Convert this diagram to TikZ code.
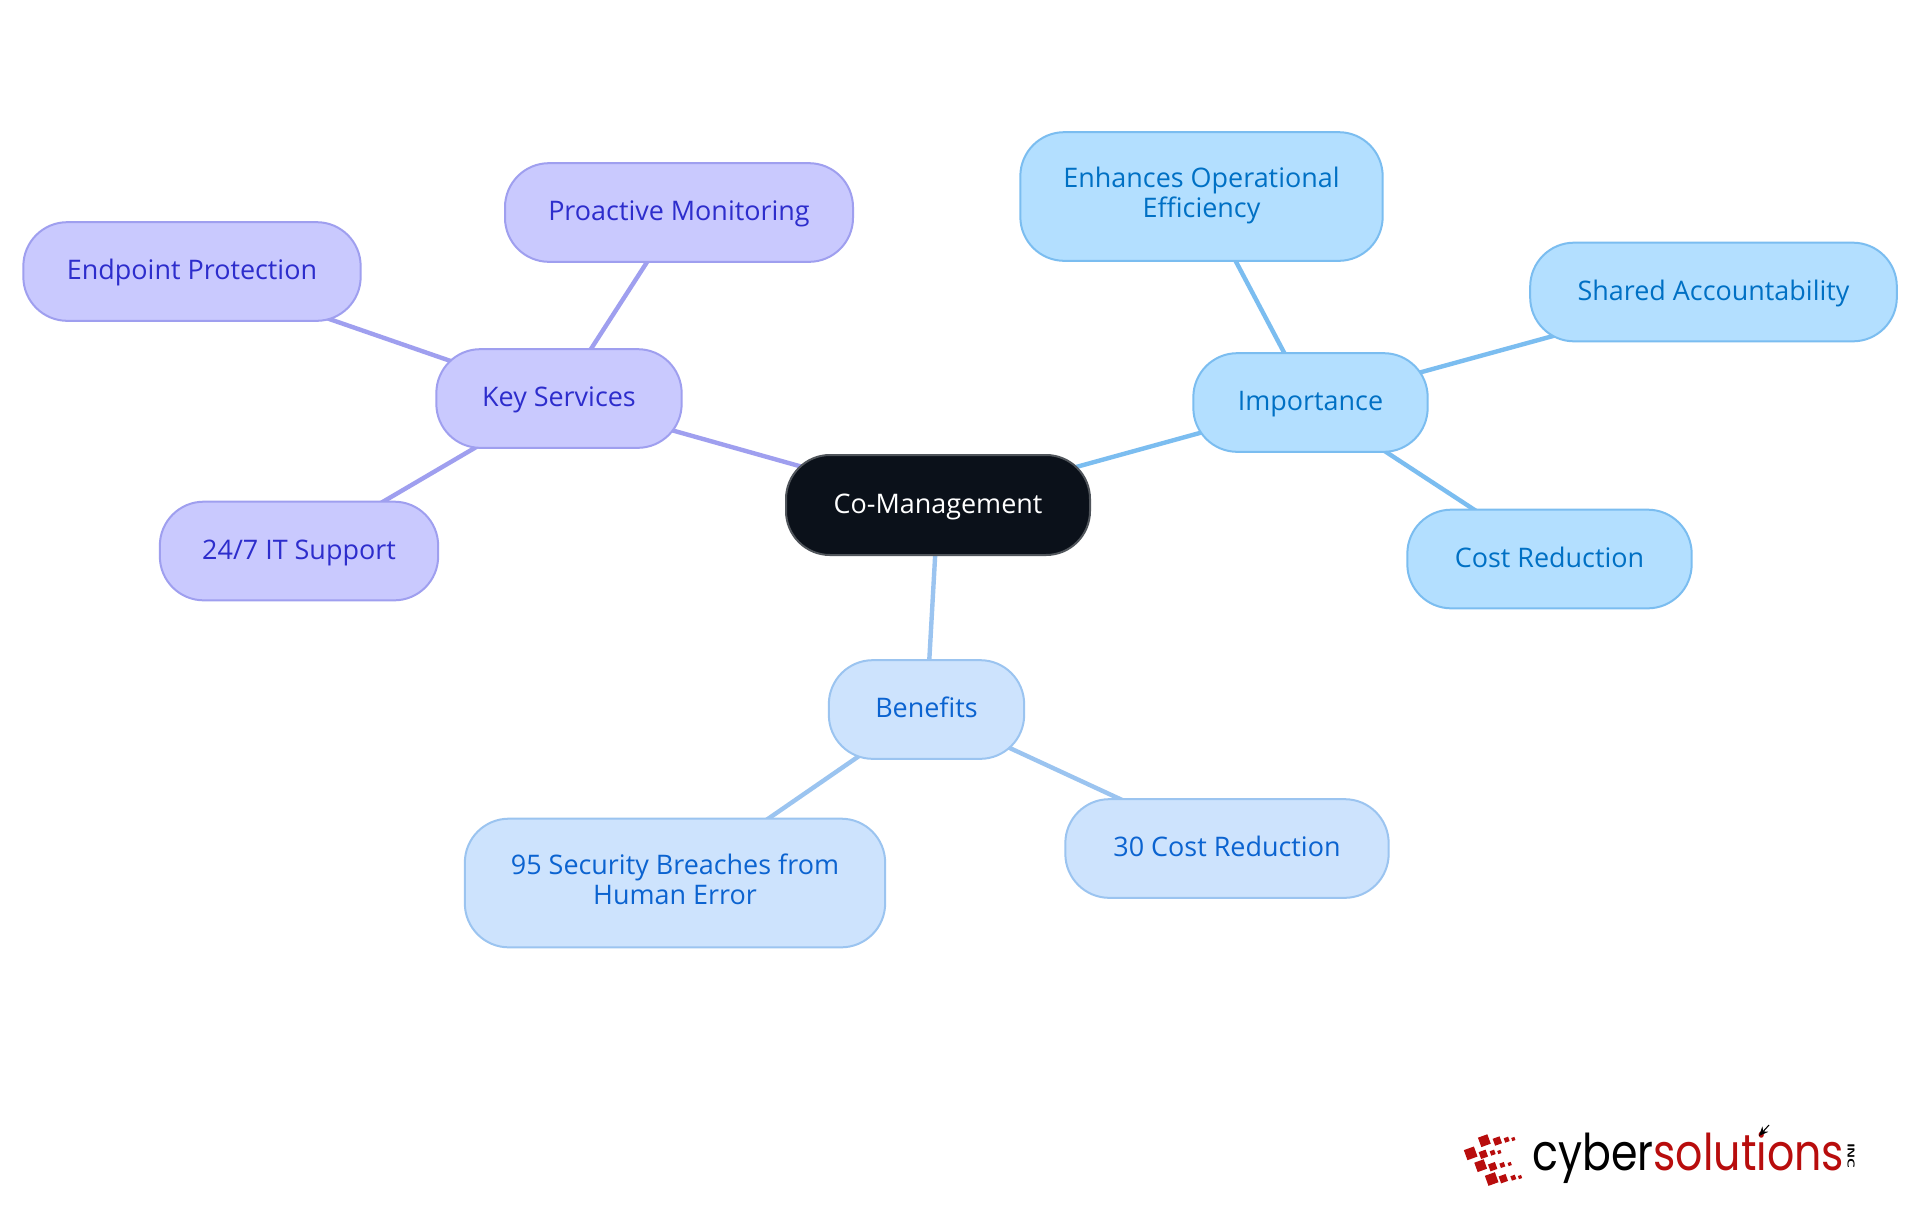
\documentclass[tikz,border=0pt]{standalone}
\usepackage{graphicx}
\usepackage{fontspec}
\setmainfont{Open Sans}
\newfontfamily\logofont{Poppins}
\usetikzlibrary{backgrounds,arrows.meta}
\definecolor{rootfill}{HTML}{0B111A}
\definecolor{rootline}{HTML}{50555B}
\definecolor{purfill}{HTML}{C9C9FE}
\definecolor{purline}{HTML}{9F9FEF}
\definecolor{purtext}{HTML}{2D2DCC}
\definecolor{skyfill}{HTML}{B3DFFF}
\definecolor{skyline}{HTML}{7BBDF0}
\definecolor{skytext}{HTML}{0070C4}
\definecolor{palefill}{HTML}{CDE3FD}
\definecolor{paleline}{HTML}{9BC4F0}
\definecolor{paletext}{HTML}{0B63D0}
\definecolor{logored}{HTML}{B80D0D}
\tikzset{
  x=0.75pt,y=-0.75pt,
  box/.style={rectangle,rounded corners=33pt,inner sep=0pt,line width=1.5pt,align=center,
    font=\fontsize{20.2pt}{22.2pt}\selectfont,
    execute at begin node={\rule{0pt}{18pt}},
    execute at end node={\rule[-6pt]{0pt}{6pt}}},
  pur/.style={box,draw=purline,fill=purfill,text=purtext},
  sky/.style={box,draw=skyline,fill=skyfill,text=skytext},
  pale/.style={box,draw=paleline,fill=palefill,text=paletext},
  root/.style={box,draw=rootline,fill=rootfill,text=white},
  link/.style={line width=3.3pt},
  logosq/.style={fill=logored},
}
\begin{document}
\begin{tikzpicture}
\useasboundingbox (0,0) rectangle (1920,1215);
\node[root,minimum width=228pt,minimum height=75pt] (co) at (938,505) {Co-Management};
\node[pur,minimum width=184pt,minimum height=74pt] (key) at (559,398.5) {Key Services};
\node[pur,minimum width=261pt,minimum height=74pt] (pro) at (679,212.5) {Proactive Monitoring};
\node[pur,minimum width=253pt,minimum height=74pt] (end) at (192,271.5) {Endpoint Protection};
\node[pur,minimum width=208.75pt,minimum height=74pt] (sup) at (299,551) {24/7 IT Support};
\node[sky,minimum width=175.75pt,minimum height=74pt] (imp) at (1310.5,402.5) {Importance};
\node[sky,minimum width=271.75pt,minimum height=96.5pt] (enh) at (1201.5,196.5) {Enhances Operational\\Efficiency};
\node[sky,minimum width=275pt,minimum height=74pt] (sha) at (1713.5,292) {Shared Accountability};
\node[sky,minimum width=213.25pt,minimum height=74pt] (cos) at (1549.5,559) {Cost Reduction};
\node[pale,minimum width=146.5pt,minimum height=74pt] (ben) at (926.5,709.5) {Benefits};
\node[pale,minimum width=315.25pt,minimum height=96.5pt] (sec) at (675,883) {95 Security Breaches from\\Human Error};
\node[pale,minimum width=242.5pt,minimum height=74pt] (thi) at (1227,848.5) {30 Cost Reduction};
\begin{scope}[on background layer]
  \fill[white] (0,0) rectangle (1920,1215);
  \draw[link,draw=purline] (co.center) -- (key.center);
  \draw[link,draw=purline] (key.center) -- (pro.center);
  \draw[link,draw=purline] (key.center) -- (end.center);
  \draw[link,draw=purline] (key.center) -- (sup.center);
  \draw[link,draw=skyline] (co.center) -- (imp.center);
  \draw[link,draw=skyline] (imp.center) -- (enh.center);
  \draw[link,draw=skyline] (imp.center) -- (sha.center);
  \draw[link,draw=skyline] (imp.center) -- (cos.center);
  \draw[link,draw=paleline] (co.center) -- (ben.center);
  \draw[link,draw=paleline] (ben.center) -- (sec.center);
  \draw[link,draw=paleline] (ben.center) -- (thi.center);
\end{scope}
% logo
\foreach \cx/\cy/\s in {133/122/15,172/123/11,200/119/7,220/117/5,
  92/160/16,130/163/11,158/158/7,178/156/5,
  122/197/15,158/200/11,187/195/7,209/192/5,
  155/237/16,190/236/11,220/233/7,240/231/5}{
  \fill[logosq,shift={(1440+\cx/3,1100+\cy/3)},rotate=20] (-\s/3,-\s/3) rectangle (\s/3,\s/3);
}
\node[inner sep=0pt,anchor=base west,text=black] (lgc) at (1532,1170)
  {\logofont\fontsize{38pt}{38pt}\selectfont\scalebox{0.843}[1]{cyber\textcolor{logored}{solutions}}};
\node[inner sep=0pt,rotate=-90,text=black,font=\sffamily\bfseries\fontsize{7.5pt}{7.5pt}\selectfont] (lgi) at (1851,1156) {\scalebox{1.4}[1]{INC}};
\coordinate (arA) at (1769,1125);
\coordinate (arB) at (1759,1136);
\draw[line width=0.8pt,black,-{Stealth[length=7pt,width=6pt]}] (arA) -- (arB);
\end{tikzpicture}
\end{document}
